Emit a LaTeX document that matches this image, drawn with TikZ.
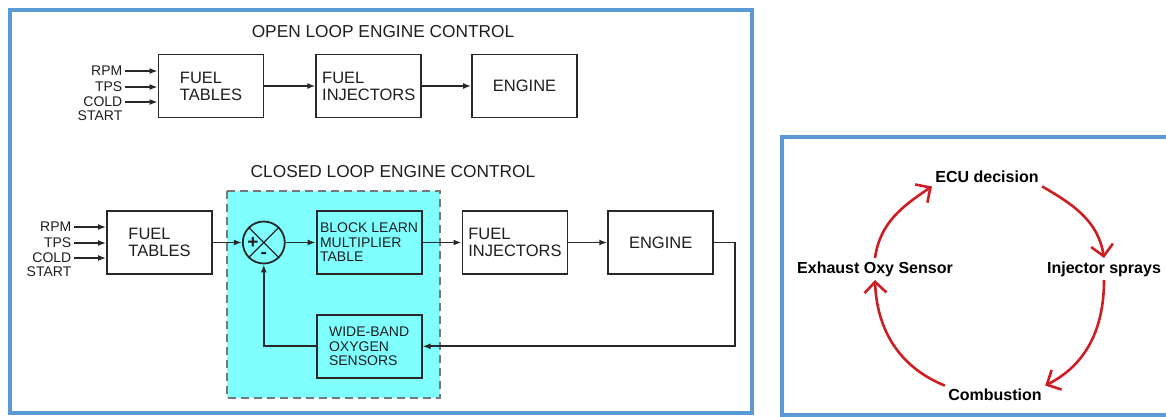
\documentclass[tikz,border=0pt]{standalone}
\usepackage{fontspec}
\setmainfont{Liberation Sans}
\usetikzlibrary{arrows.meta, positioning}

\definecolor{panelblue}{RGB}{91,155,213}
\definecolor{linegray}{RGB}{40,40,40}
\definecolor{textgray}{RGB}{30,30,30}
\definecolor{loopfill}{RGB}{128,255,255}
\definecolor{dashgray}{RGB}{120,120,120}
\definecolor{cyclered}{RGB}{205,30,35}

\begin{document}
\begin{tikzpicture}[
  x=1pt, y=1pt,
  box/.style={draw=linegray, line width=1.8pt, minimum width=105pt, minimum height=63pt,
    align=left, text=textgray, font=\fontsize{16.5}{17}\selectfont},
  smallbox/.style={box, font=\fontsize{14}{14.5}\selectfont},
  input/.style={anchor=east, inner sep=2.5pt, text=textgray, font=\fontsize{14}{14}\selectfont},
  title/.style={text=textgray, font=\fontsize{17.3}{18}\selectfont},
  sum/.style={draw=linegray, line width=1.8pt, circle, minimum size=42pt, inner sep=0pt},
  sign/.style={text=textgray, inner sep=0pt, font=\bfseries\fontsize{19}{19}\selectfont},
  flow/.style={draw=linegray, line width=1.8pt, -{Latex[length=8pt,width=6pt]}},
  panel/.style={draw=panelblue, line width=4pt},
  stage/.style={text=black, font=\bfseries\fontsize{16}{16}\selectfont},
  cyclearrow/.style={draw=cyclered, line width=2.6pt, -{Straight Barb[length=11pt,width=22pt]}}
]
\useasboundingbox (0,0) rectangle (1166,-417);

% panels
\draw[panel] (10,-10) rectangle (752,-413);
\draw[panel] (1166,-137) -- (782,-137) -- (782,-415) -- (1166,-415);

% open loop
\node[title] (opentitle) at (383,-32) {OPEN LOOP ENGINE CONTROL};
\node[box] (ft1) at (211,-86) {FUEL\\TABLES};
\node[box, right=51pt of ft1] (fi1) {FUEL\\INJECTORS};
\node[box, right=49pt of fi1] (en1) {ENGINE};

\node[input] (rpm1) at (125,-71) {RPM};
\node[input] (tps1) at (125,-87) {TPS};
\node[input] (cold1) at (125,-102) {COLD};
\node[input] (start1) at (125,-116) {START};

\draw[flow] (rpm1.east) -- (rpm1.east -| ft1.west);
\draw[flow] (tps1.east) -- (tps1.east -| ft1.west);
\draw[flow] (cold1.east) -- (cold1.east -| ft1.west);
\draw[flow] (ft1) -- (fi1);
\draw[flow] (fi1) -- (en1);

% closed loop
\node[title] (closedtitle) at (393,-172) {CLOSED LOOP ENGINE CONTROL};
\fill[loopfill] (227,-191) rectangle (440,-398);
\draw[dashgray, line width=1.4pt, dash pattern=on 8pt off 5pt] (227,-191) rectangle (440,-398);

\node[box] (ft2) at (159.5,-242.5) {FUEL\\TABLES};
\node[sum, right=29pt of ft2] (sum) {};
\node[smallbox, right=30pt of sum] (blk) {BLOCK LEARN\\MULTIPLIER\\TABLE};
\node[box, right=39pt of blk] (fi2) {FUEL\\INJECTORS};
\node[box, right=39pt of fi2] (en2) {ENGINE};
\node[smallbox, below=39pt of blk] (wb) {WIDE-BAND\\OXYGEN\\SENSORS};

\draw[linegray, line width=1.3pt] (sum.north west) -- (sum.south east)
  (sum.north east) -- (sum.south west);
\node[sign] (plus) at ([xshift=-11pt]sum.center) {+};
\node[sign] (minus) at ([yshift=-13pt]sum.center) {-};

\node[input] (rpm2) at (74,-227) {RPM};
\node[input] (tps2) at (74,-243) {TPS};
\node[input] (cold2) at (74,-258) {COLD};
\node[input] (start2) at (74,-272) {START};

\draw[flow] (rpm2.east) -- (rpm2.east -| ft2.west);
\draw[flow] (tps2.east) -- (tps2.east -| ft2.west);
\draw[flow] (cold2.east) -- (cold2.east -| ft2.west);
\draw[flow] (ft2) -- (sum);
\draw[flow] (sum) -- (blk);
\draw[flow] (blk) -- (fi2);
\draw[flow] (fi2) -- (en2);
\draw[flow] (en2.east) -- ++(21,0) |- (wb.east);
\draw[flow] (wb.west) -| (sum.south);

% cycle
\node[stage] (ecu) at (987,-177) {ECU decision};
\node[stage] (inj) at (1104,-269) {Injector sprays};
\node[stage] (comb) at (995,-395) {Combustion};
\node[stage] (exh) at (875,-269) {Exhaust Oxy Sensor};

\draw[cyclearrow] (ecu.south east) to[out=-30, in=99] (inj.north);
\draw[cyclearrow] (inj.south) to[out=-90, in=27] (comb.north east);
\draw[cyclearrow] (comb.north west) to[out=158, in=-88] (exh.south);
\draw[cyclearrow] (exh.north) to[out=82, in=-146] (ecu.south west);
\end{tikzpicture}
\end{document}
